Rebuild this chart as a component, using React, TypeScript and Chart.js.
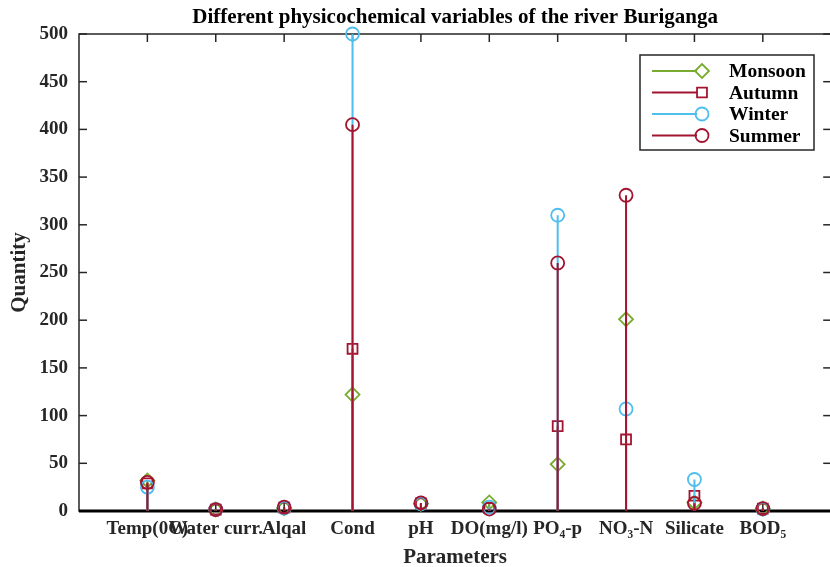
import React, { useEffect, useRef } from 'react';
import { Chart, registerables } from 'chart.js';
import { drawPoint } from 'chart.js/helpers';

Chart.register(...registerables);

const categories = ['Temp(0C)', 'Water curr.', 'Alqal', 'Cond', 'pH', 'DO(mg/l)', 'PO₄-p', 'NO₃-N', 'Silicate', 'BOD₅'];
const seriesNames = ['Monsoon', 'Autumn', 'Winter', 'Summer'];
const monsoon = [32, 1.5, 3, 122, 7.5, 9, 49, 201, 9, 2.5];
const autumn = [29, 1.5, 3.5, 170, 8, 3, 89, 75, 16, 2.5];
const winter = [25, 1.5, 3, 500, 7.5, 4, 310, 107, 33, 2];
const summer = [30, 1.5, 4, 405, 8.5, 2, 260, 331, 8, 2.5];
const yTicks = [0, 50, 100, 150, 200, 250, 300, 350, 400, 450, 500];

const chartTitle = 'Different physicochemical variables of the river Buriganga';
const xTitle = 'Parameters';
const yTitle = 'Quantity';

const FONT = "'Liberation Serif', 'Times New Roman', serif";
const GREEN = '#77AC30';
const CRIMSON = '#A2142F';
const BLUE = '#4DBEEE';

const seriesValues = [monsoon, autumn, winter, summer];
const seriesColors = [GREEN, CRIMSON, BLUE, CRIMSON];
const seriesStyles = ['rectRot', 'rect', 'circle', 'circle'];
const seriesRadius = [7, 7, 6.5, 6.5];

function stemData(values: number[]) {
  const out: any[] = [];
  values.forEach((v, i) => {
    out.push({ x: i + 1, y: 0, base: true });
    out.push({ x: i + 1, y: v });
    out.push({ x: i + 1, y: null });
  });
  return out;
}

const boxPlugin = {
  id: 'boxPlugin',
  beforeDatasetsDraw(chart: any) {
    const { ctx, chartArea, scales } = chart;
    const { left, right, top, bottom } = chartArea;
    const x = scales.x;
    const y = scales.y;
    const line = (x1: number, y1: number, x2: number, y2: number) => {
      ctx.beginPath();
      ctx.moveTo(x1, y1);
      ctx.lineTo(x2, y2);
      ctx.stroke();
    };
    ctx.save();
    ctx.strokeStyle = '#262626';
    ctx.lineWidth = 1.5;
    ctx.strokeRect(left, top, right - left, bottom - top);
    const tl = 8;
    yTicks.forEach((v) => {
      const py = y.getPixelForValue(v);
      line(left, py, left + tl, py);
      line(right, py, right - tl, py);
    });
    categories.forEach((_, i) => {
      const px = x.getPixelForValue(i + 1);
      line(px, top, px, top + tl);
      line(px, bottom, px, bottom - tl);
    });
    ctx.strokeStyle = '#000';
    ctx.lineWidth = 3;
    const p0 = y.getPixelForValue(0);
    line(left, p0, right, p0);
    ctx.restore();
  },
};

const legendPlugin = {
  id: 'stemLegend',
  afterDraw(chart: any) {
    const { ctx } = chart;
    const bx = 640, by = 55, bw = 174, bh = 95;
    ctx.save();
    ctx.fillStyle = '#fff';
    ctx.fillRect(bx, by, bw, bh);
    ctx.strokeStyle = '#262626';
    ctx.lineWidth = 1.5;
    ctx.strokeRect(bx, by, bw, bh);
    seriesNames.forEach((name, i) => {
      const ry = by + 16 + i * 21.5;
      ctx.strokeStyle = seriesColors[i];
      ctx.lineWidth = 2;
      ctx.beginPath();
      ctx.moveTo(652, ry);
      ctx.lineTo(697, ry);
      ctx.stroke();
      ctx.lineWidth = 1.8;
      ctx.fillStyle = 'rgba(0,0,0,0)';
      drawPoint(ctx, { pointStyle: seriesStyles[i], radius: seriesRadius[i], rotation: 0, borderWidth: 1.8 } as any, 702, ry);
      ctx.fillStyle = '#000';
      ctx.font = `bold 19.5px ${FONT}`;
      ctx.textAlign = 'left';
      ctx.textBaseline = 'middle';
      ctx.fillText(name, 729, ry + 1);
    });
    ctx.restore();
  },
};

export default function App() {
  const ref = useRef<HTMLCanvasElement | null>(null);
  useEffect(() => {
    if (!ref.current) return;
    const chart = new Chart(ref.current, {
      type: 'scatter',
      data: {
        datasets: seriesNames.map((name, i) => ({
          label: name,
          data: stemData(seriesValues[i]),
          order: seriesNames.length - i,
          showLine: true,
          spanGaps: false,
          borderColor: seriesColors[i],
          borderWidth: 2,
          pointStyle: seriesStyles[i] as any,
          pointRadius: (c: any) => (c.raw && c.raw.base ? 0 : seriesRadius[i]),
          pointBorderColor: seriesColors[i],
          pointBackgroundColor: 'rgba(0,0,0,0)',
          pointBorderWidth: 1.8,
          clip: false as any,
        })),
      },
      options: {
        responsive: false,
        animation: false,
        events: [],
        layout: { padding: { left: 0, right: 7, top: 0, bottom: 0 } },
        plugins: {
          legend: { display: false },
          tooltip: { enabled: false },
          title: {
            display: true,
            text: chartTitle,
            color: '#000',
            fullSize: false,
            font: { family: FONT, size: 21, weight: 'bold', lineHeight: 1.2 },
            padding: { top: 5, bottom: 3.8 },
          },
        },
        scales: {
          x: {
            type: 'linear',
            min: 0,
            max: 11,
            grid: { display: false, drawTicks: false },
            border: { display: false },
            afterBuildTicks: (s: any) => {
              s.ticks = categories.map((_, i) => ({ value: i + 1 }));
            },
            afterFit: (s: any) => {
              s.height = 56;
            },
            ticks: {
              autoSkip: false,
              maxRotation: 0,
              minRotation: 0,
              padding: 7,
              color: '#262626',
              font: { family: FONT, size: 19, weight: 'bold' },
              callback: (v: any) => categories[Math.round(v) - 1] ?? '',
            },
            title: {
              display: true,
              text: xTitle,
              color: '#262626',
              font: { family: FONT, size: 21, weight: 'bold', lineHeight: 0.9 },
              padding: 0,
            },
          },
          y: {
            type: 'linear',
            min: 0,
            max: 500,
            grid: { display: false, drawTicks: false },
            border: { display: false },
            afterBuildTicks: (s: any) => {
              s.ticks = yTicks.map((v) => ({ value: v }));
            },
            afterFit: (s: any) => {
              s.width = 79;
            },
            ticks: {
              padding: 11,
              color: '#262626',
              font: { family: FONT, size: 19, weight: 'bold' },
            },
            title: {
              display: true,
              text: yTitle,
              color: '#262626',
              font: { family: FONT, size: 21, weight: 'bold', lineHeight: 1.2 },
              padding: { top: 7, bottom: 0 },
            },
          },
        },
      },
      plugins: [boxPlugin, legendPlugin],
    });
    return () => chart.destroy();
  }, []);
  return (
    <div style={{ position: 'absolute', left: 0, top: 0, width: 830, height: 567, overflow: 'hidden', background: '#fff' }}>
      <canvas ref={ref} width={840} height={567} style={{ display: 'block', width: 840, height: 567 }} />
    </div>
  );
}
